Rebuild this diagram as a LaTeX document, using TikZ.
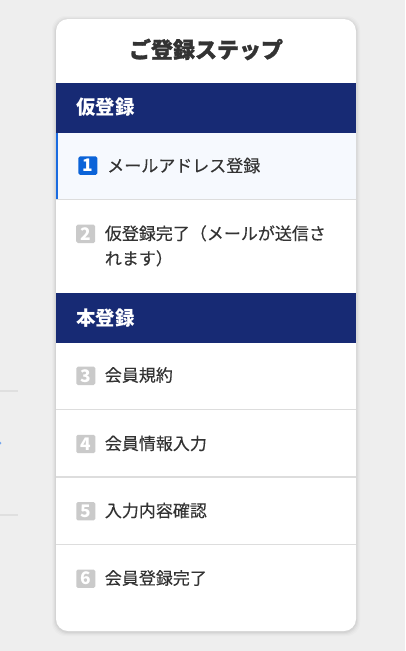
\documentclass[tikz,border=0pt]{standalone}
\usepackage{fontspec}
\setmainfont[FakeBold=0.25,BoldFeatures={FakeBold=0}]{Noto Sans CJK JP}
\newfontfamily\titlefont[BoldFeatures={FakeBold=1.3}]{Noto Sans CJK JP}
\definecolor{bgc}{HTML}{EEEEEE}
\definecolor{navy}{HTML}{172A74}
\definecolor{txt}{HTML}{333333}
\definecolor{sel}{HTML}{F6F9FE}
\definecolor{accent}{HTML}{1A6BE0}
\definecolor{badgeblue}{HTML}{0B63D8}
\definecolor{badgegray}{HTML}{CACACA}
\definecolor{sepc}{HTML}{DDDDDD}
\definecolor{faint}{HTML}{DFDFDF}
\begin{document}
\begin{tikzpicture}[x=0.75pt,y=-0.75pt,
  lbl/.style={anchor=base west,inner sep=0,text=txt,font=\fontsize{12.75}{16}\selectfont},
  hdrtxt/.style={anchor=base west,inner sep=0,text=white,font=\bfseries\fontsize{14.6}{18}\selectfont},
  badge/.style={minimum width=14.25pt,minimum height=13.8pt,inner sep=0,fill=badgegray,rounded corners=1.2pt,text=white,font=\bfseries\fontsize{13}{14}\selectfont},
  sepline/.style={draw=sepc,line width=0.9pt},
  hdrbar/.style={fill=navy,draw=none,minimum width=225pt,minimum height=37.5pt,inner sep=0}]
\useasboundingbox (0,0) rectangle (405,651);
\fill[bgc] (0,0) rectangle (405,651);
% faint background remnants
\fill[faint] (0,390) rectangle (18,392);
\fill[faint] (0,514) rectangle (18,516);
\fill[accent!60] (0,443) circle (1.5);
% card shadow
\foreach \d/\o in {4/0.015,3/0.02,2/0.03,1/0.04}{
  \fill[black,opacity=\o,rounded corners=10pt] (56-\d,19-\d+1) rectangle (356+\d,631+\d+1);
}
\fill[white,rounded corners=9pt] (56,19) rectangle (356,631);
\node[anchor=base,inner sep=0,text=txt,font=\titlefont\bfseries\fontsize{16.5}{20}\selectfont] (title) at (206,58) {ご登録ステップ};
% header 1
\node[hdrbar] (h1) at (206,108) {};
\node[hdrtxt] (h1t) at (76,114.8) {仮登録};
% row 1
\fill[sel] (56,133) rectangle (356,199);
\fill[accent] (56,133) rectangle (58,199);
\node[badge,fill=badgeblue] (b1) at (87.8,165.6) {1};
\node[lbl] (t1) at (107,172) {メールアドレス登録};
\coordinate (s1l) at (56,199.5);
\coordinate (s1r) at (356,199.5);
\draw[sepline] (s1l) -- (s1r);
% row 2
\node[badge] (b2) at (85.7,233.8) {2};
\node[lbl] (t2a) at (104.6,239.8) {仮登録完了（メールが送信さ};
\node[lbl] (t2b) at (104.6,264.8) {れます）};
% header 2
\node[hdrbar] (h2) at (206,318) {};
\node[hdrtxt] (h2t) at (76,325.2) {本登録};
% rows 3-6
\node[badge] (b3) at (85.8,375.8) {3};
\node[lbl] (t3) at (104.6,381.5) {会員規約};
\coordinate (s3l) at (56,409.5);
\coordinate (s3r) at (356,409.5);
\draw[sepline] (s3l) -- (s3r);
\node[badge] (b4) at (85.8,444) {4};
\node[lbl] (t4) at (104.6,449.8) {会員情報入力};
\coordinate (s4l) at (56,477);
\coordinate (s4r) at (356,477);
\draw[sepline] (s4l) -- (s4r);
\node[badge] (b5) at (85.8,511.2) {5};
\node[lbl] (t5) at (104.6,517) {入力内容確認};
\coordinate (s5l) at (56,544.5);
\coordinate (s5r) at (356,544.5);
\draw[sepline] (s5l) -- (s5r);
\node[badge] (b6) at (85.8,578.7) {6};
\node[lbl] (t6) at (104.6,584.5) {会員登録完了};
\end{tikzpicture}
\end{document}
